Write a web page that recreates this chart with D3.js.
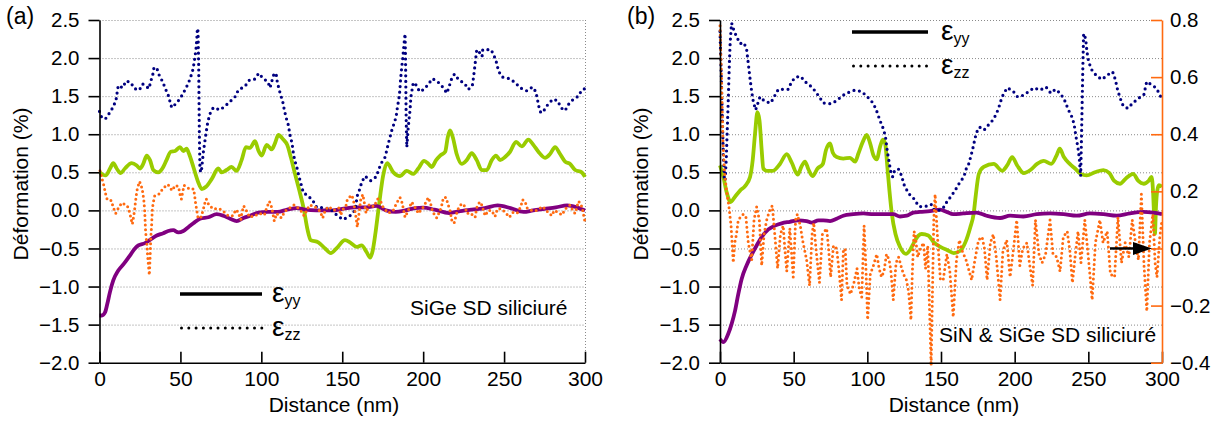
<!DOCTYPE html>
<html><head><meta charset="utf-8">
<script src="https://cdn.jsdelivr.net/npm/d3@7"></script>
<style>body{margin:0;background:#fff} text{font-family:"Liberation Sans",Arial,Helvetica,sans-serif}</style>
</head><body>
<svg id="c" width="1219" height="423"></svg>
<script>
// ---------- tick labels / texts ----------
const xTicks = [0, 50, 100, 150, 200, 250, 300];
const yTicks = [-2, -1.5, -1, -0.5, 0, 0.5, 1, 1.5, 2, 2.5];
const rTicks = [-0.4, -0.2, 0, 0.2, 0.4, 0.6, 0.8];
const panelLabels = ["(a)", "(b)"];
const notes = ["SiGe SD siliciuré", "SiN & SiGe SD siliciuré"];
const legendSubs = ["yy", "zz"];
const xTitle = "Distance (nm)";
const yTitle = "Déformation (%)";

// ---------- panel (a) series [distance nm, strain %] ----------
const aGreenYY = [[0.3,0.50],[2,0.47],[4,0.46],[6.5,0.55],[8.5,0.62],[10.6,0.55],[13.1,0.49],[15.7,0.55],[19.9,0.62],[23,0.59],[25,0.55],[27,0.61],[29.2,0.72],[31.2,0.66],[33.3,0.53],[36.3,0.50],[39.4,0.57],[41.4,0.66],[44,0.77],[46.7,0.78],[49.7,0.83],[51.8,0.78],[53.8,0.81],[55.4,0.74],[58,0.57],[61,0.37],[63.2,0.28],[65.8,0.31],[69.3,0.41],[73.4,0.55],[75.5,0.50],[78.5,0.53],[81.6,0.57],[84.7,0.52],[87.8,0.66],[90.5,0.83],[93,0.82],[96.1,0.91],[98.1,0.79],[100.2,0.72],[103.3,0.86],[106.4,0.80],[108.4,0.88],[110.5,0.99],[113.6,0.93],[116,0.86],[118.2,0.70],[120.8,0.48],[123.5,0.26],[126.4,0.0],[128.5,-0.25],[130.5,-0.39],[135.2,-0.42],[139.4,-0.50],[142.9,-0.56],[146.4,-0.50],[151.7,-0.39],[154.8,-0.42],[158.9,-0.48],[161.9,-0.46],[165.1,-0.55],[167.2,-0.62],[168.8,-0.53],[170.5,-0.3],[172,-0.05],[173.5,0.2],[175.2,0.45],[177.7,0.62],[181.6,0.50],[185.7,0.45],[189.8,0.52],[194,0.48],[197,0.55],[200.6,0.65],[203.3,0.61],[205.3,0.57],[208,0.66],[210.5,0.72],[213.6,0.77],[215.2,0.96],[216.6,1.05],[218.3,0.96],[220.7,0.74],[223.8,0.61],[226.9,0.66],[230,0.75],[233.1,0.66],[236.2,0.53],[239.3,0.53],[242.4,0.66],[245,0.72],[247.5,0.66],[250.6,0.70],[253.7,0.77],[257.4,0.90],[260.9,0.84],[265,0.93],[268.1,0.86],[271.2,0.77],[275.3,0.69],[278.4,0.74],[281.5,0.83],[284.6,0.74],[287.7,0.64],[290.8,0.61],[293.9,0.53],[298,0.50],[300,0.44]];
const aPurpleYY = [[0,-1.38],[1.5,-1.38],[3.4,-1.34],[4.8,-1.23],[6.5,-1.07],[8.5,-0.92],[11.6,-0.79],[15.1,-0.70],[18.9,-0.59],[21.9,-0.50],[24,-0.46],[28.1,-0.43],[32.3,-0.37],[35.4,-0.33],[39.4,-0.30],[42.5,-0.27],[45.6,-0.26],[48.7,-0.29],[51.8,-0.27],[54.9,-0.22],[58,-0.17],[62.1,-0.11],[67.3,-0.09],[72.4,-0.05],[76.5,-0.07],[80.7,-0.11],[84.8,-0.14],[88.9,-0.10],[93,-0.07],[98.1,-0.03],[104,-0.02],[110,-0.02],[116,0.01],[122,0.03],[127,0.01],[134,0.0],[144,0.0],[150,0.02],[158,0.04],[165,0.04],[171,0.06],[177,0.0],[183,-0.02],[189,0.0],[195,0.03],[200,0.035],[207,0.01],[216,-0.035],[223,-0.01],[230,0.01],[238,0.03],[246,0.066],[254,0.03],[262,-0.02],[268,0.0],[275,0.02],[282,0.04],[289,0.066],[295,0.04],[300,0.0]];
const aNavyZZ = [[0,1.30],[1.5,1.21],[4,1.21],[6.5,1.29],[8.5,1.36],[10.2,1.45],[11,1.56],[11.6,1.64],[14.3,1.61],[16.4,1.70],[19.3,1.68],[21.5,1.60],[24.6,1.58],[26.7,1.66],[28.7,1.63],[30.6,1.60],[31.6,1.69],[32.9,1.78],[33.7,1.88],[35.7,1.85],[36.8,1.78],[39,1.69],[40.9,1.59],[42.5,1.51],[44.6,1.35],[47.7,1.41],[50.4,1.49],[52.8,1.58],[54.9,1.67],[56.3,1.75],[57.6,1.84],[58.4,1.93],[59,2.02],[59.6,2.11],[60.1,2.24],[60.5,2.39],[60.9,2.35],[61.1,2.1],[61.3,1.89],[61.5,1.45],[61.7,1.01],[61.9,0.75],[62.1,0.53],[62.9,0.50],[64.2,0.77],[65.8,1.01],[66.9,1.16],[68.3,1.27],[70.3,1.35],[74.5,1.32],[77.6,1.37],[80.7,1.43],[83.7,1.49],[85.8,1.58],[89.9,1.63],[92.6,1.71],[95.7,1.72],[98.4,1.80],[101.2,1.73],[104,1.69],[105.4,1.61],[106.4,1.69],[107.8,1.79],[109.1,1.80],[109.9,1.68],[111.6,1.54],[113.2,1.43],[114.2,1.32],[115.3,1.22],[116.7,1.12],[117.7,0.99],[119,0.88],[119.8,0.75],[120.6,0.66],[121.9,0.57],[123.1,0.46],[125,0.31],[126,0.23],[128.4,0.20],[131.8,0.13],[134.2,0.04],[138.3,0.035],[142.5,0.02],[145,-0.03],[147.6,-0.08],[150.7,-0.12],[154.8,-0.07],[157.9,0.0],[158.6,0.1],[159.4,0.20],[161,0.29],[162,0.37],[164.1,0.45],[167.6,0.39],[170.9,0.44],[172.3,0.52],[173.8,0.61],[176.5,0.70],[178.5,0.88],[179.5,0.96],[180.6,1.05],[182,1.14],[183.3,1.23],[184,1.34],[184.7,1.43],[185.3,1.51],[185.7,1.61],[186,1.71],[186.8,1.89],[187.4,2.0],[187.8,2.1],[188.2,2.19],[188.8,2.32],[189.1,2.0],[189.3,1.6],[189.5,1.2],[189.9,0.83],[190.6,1.05],[191.3,1.2],[191.9,1.32],[192.4,1.49],[193.9,1.68],[196,1.64],[197.7,1.56],[200.7,1.59],[203.6,1.67],[205.9,1.73],[209.4,1.68],[212.5,1.61],[214.6,1.54],[216,1.62],[217.2,1.71],[219.3,1.79],[222.2,1.71],[225.5,1.67],[228,1.59],[230.4,1.64],[231,1.73],[231.7,1.85],[232.4,1.98],[233.1,2.11],[234.6,2.08],[236.4,2.02],[236.8,2.11],[242,2.11],[244,2.02],[245.5,1.93],[246.5,1.83],[249,1.75],[253.3,1.73],[256.8,1.68],[259.9,1.61],[264,1.57],[267.5,1.62],[269.6,1.56],[270.6,1.46],[271.4,1.37],[272.7,1.28],[274.9,1.32],[277,1.39],[280.1,1.46],[283.2,1.44],[285,1.35],[287.7,1.31],[289.7,1.39],[292.8,1.46],[295.9,1.50],[298,1.58],[300,1.60]];
const aOrangeZZ = [[0.3,0.52],[0.7,0.50],[1.5,0.42],[2.8,0.32],[3.6,0.23],[4.8,0.14],[7.3,0.13],[8.5,0.04],[10,-0.04],[11.9,0.04],[13.9,0.10],[15.5,0.08],[17.2,0.06],[18.7,-0.03],[19.7,-0.13],[20.3,-0.18],[21.1,-0.08],[21.7,0.01],[22.2,0.11],[22.8,0.21],[23.4,0.29],[24.8,0.38],[26.3,0.29],[26.9,0.21],[27.5,0.11],[27.9,0.0],[28.1,-0.09],[28.3,-0.19],[28.5,-0.28],[28.9,-0.37],[29.4,-0.47],[29.6,-0.56],[30,-0.66],[30.4,-0.76],[30.8,-0.85],[31.3,-0.6],[31.7,-0.35],[32.2,-0.2],[32.6,0.0],[33.1,0.09],[34.1,0.19],[37.2,0.22],[39.2,0.29],[42.3,0.34],[44.8,0.26],[46.9,0.33],[48.9,0.31],[49.6,0.22],[50.6,0.15],[52.2,0.33],[55.7,0.28],[58.2,0.28],[58.8,0.19],[59.4,0.09],[60.1,0.0],[60.9,-0.10],[62.5,-0.10],[64,0.0],[65,0.09],[66,0.15],[67.4,0.08],[70.1,0.02],[74.2,0.02],[77,-0.02],[79.5,-0.07],[82.6,-0.07],[84.2,0.01],[85.6,-0.02],[87.3,-0.12],[88.1,-0.02],[89.1,0.06],[90.7,0.0],[92.8,-0.09],[95.9,-0.07],[98.7,-0.04],[101.9,-0.06],[103.3,0.035],[105,0.12],[106.4,0.04],[108,-0.14],[109.5,-0.04],[112.4,-0.10],[114.6,-0.01],[117.4,0.03],[120.2,0.07],[124,0.01],[126.4,-0.07],[129.7,0.07],[133,0.05],[136.3,-0.01],[137.9,-0.10],[139.5,0.0],[141.4,0.05],[144.8,0.0],[148.2,0.035],[149,-0.06],[150.7,0.02],[152.4,0.07],[153.2,0.15],[155.9,0.20],[157,0.13],[157.8,0.0],[158.5,-0.09],[159.3,-0.22],[160.3,-0.05],[161.4,0.14],[162.7,0.21],[163.5,0.12],[164.7,-0.035],[166.7,0.08],[169.5,0.05],[171.9,0.15],[173.7,0.12],[175.3,0.04],[178.5,-0.035],[181.5,0.0],[183.7,0.10],[185.7,0.17],[187,0.10],[188.8,-0.09],[190.8,0.0],[192.9,0.11],[195.6,0.02],[197,-0.04],[200,0.04],[201.8,0.11],[203.2,0.17],[204.7,0.08],[205.9,-0.02],[208.4,-0.10],[210.5,0.0],[211.5,0.07],[212.5,0.17],[214.1,0.17],[215.5,0.07],[216.6,0.0],[217.7,-0.13],[219.1,-0.17],[220.5,-0.05],[222,0.04],[223.9,0.09],[226,0.05],[226.9,-0.04],[229,-0.03],[232.1,-0.09],[233.1,0.035],[234.1,0.09],[235.6,0.11],[236.8,0.03],[238.3,-0.07],[240.3,0.0],[242.3,0.0],[244.4,-0.08],[245.9,0.02],[248.5,0.02],[251.2,-0.035],[253.3,-0.09],[255.8,-0.02],[258.3,-0.03],[260.3,0.05],[261.5,0.14],[262.9,0.12],[264.3,0.03],[267,0.0],[270,0.0],[273.9,0.05],[276.4,-0.01],[279.5,-0.07],[281,0.0],[283.7,-0.03],[285.8,-0.06],[287.9,0.02],[290.8,0.07],[292.9,-0.02],[294,-0.04],[295.9,0.12],[297.4,0.09],[298.6,0.0],[299.4,-0.09],[300,-0.15]];

// ---------- panel (b) series ----------
const bGreenYY = [[0,0.59],[2.3,0.44],[4.5,0.24],[7.2,0.11],[10.2,0.18],[13.6,0.26],[17,0.32],[20.4,0.44],[22.2,0.66],[23.8,1.01],[25.4,1.29],[26.8,1.18],[28.3,0.79],[29.4,0.55],[31.7,0.52],[35.8,0.52],[40.7,0.61],[45.3,0.74],[48.6,0.63],[52.7,0.47],[55.4,0.58],[57.7,0.64],[60,0.54],[62.8,0.45],[66.2,0.55],[69.8,0.61],[71.9,0.79],[74.7,0.88],[76.5,0.76],[79.2,0.70],[83.7,0.68],[88.3,0.69],[91.7,0.64],[94,0.75],[96.9,0.90],[99.6,0.99],[101.9,0.88],[104.2,0.72],[106.4,0.67],[108.7,0.84],[110.5,0.93],[112.1,0.88],[113.6,0.57],[115,0.26],[116.6,-0.04],[119.1,-0.31],[122.2,-0.48],[126.3,-0.57],[129,-0.52],[131.7,-0.42],[134.7,-0.33],[136.9,-0.31],[141.4,-0.33],[145.1,-0.42],[149.6,-0.48],[154.1,-0.52],[158.6,-0.56],[163.1,-0.53],[166.5,-0.42],[169.9,-0.22],[172.2,-0.04],[173.6,0.2],[175.7,0.48],[179,0.57],[185.8,0.61],[191.5,0.52],[194.9,0.59],[198.3,0.70],[201.7,0.59],[206.2,0.49],[210.7,0.53],[215.2,0.61],[219.8,0.65],[224.8,0.61],[228.4,0.72],[230.6,0.81],[233.4,0.70],[237.4,0.61],[241,0.55],[244.8,0.48],[248.9,0.46],[254.5,0.50],[260.2,0.53],[264.3,0.49],[267.4,0.39],[271.5,0.35],[275.5,0.42],[280.4,0.48],[283.8,0.39],[287.6,0.35],[291,0.39],[292.9,0.44],[294,0.22],[294.6,-0.06],[295.2,-0.31],[295.9,0.04],[296.8,0.26],[297.9,0.33],[300,0.31]];
const bPurpleYY = [[0,-1.69],[2.3,-1.73],[5.6,-1.62],[7.9,-1.49],[10.2,-1.32],[12.4,-1.10],[14.7,-0.90],[18.1,-0.72],[21.5,-0.58],[24.9,-0.46],[28.3,-0.35],[32.8,-0.25],[37.3,-0.20],[41.8,-0.17],[47.4,-0.15],[53.2,-0.13],[58.8,-0.14],[62.2,-0.16],[66.8,-0.13],[70.1,-0.13],[74.7,-0.14],[79.2,-0.11],[83.7,-0.07],[90.5,-0.05],[97.3,-0.04],[104.1,-0.05],[110.9,-0.05],[117.6,-0.05],[122.2,-0.08],[126.7,-0.07],[131.2,-0.03],[135.7,-0.02],[142.5,-0.01],[149.3,0.01],[153.8,-0.02],[158.3,-0.05],[165.1,-0.04],[174.1,-0.03],[180.9,-0.07],[190.1,-0.10],[196.9,-0.07],[205.9,-0.08],[215,-0.05],[224,-0.04],[233.1,-0.05],[242.1,-0.07],[251.1,-0.04],[260.2,-0.05],[269.2,-0.07],[278.3,-0.04],[287.3,-0.02],[294.1,-0.03],[300,-0.05]];
const bNavyZZ = [[0,2.35],[0.8,1.8],[1.6,1.2],[2.3,0.7],[2.9,0.42],[3.5,0.39],[4.3,0.7],[5,1.1],[5.7,1.5],[6.3,1.9],[6.9,2.2],[7.5,2.37],[7.9,2.46],[9.5,2.36],[11.3,2.28],[13.6,2.19],[16.3,2.2],[18.1,2.11],[19.2,1.93],[20.4,1.73],[21.5,1.56],[22.6,1.43],[24.2,1.32],[27.1,1.49],[30.5,1.43],[34.4,1.41],[36.7,1.49],[39.6,1.59],[43,1.59],[46.4,1.59],[48.6,1.69],[51.3,1.75],[54.8,1.76],[57.7,1.69],[61.1,1.64],[64.5,1.57],[67.4,1.49],[70.1,1.41],[75.1,1.40],[79.2,1.44],[82.6,1.50],[86,1.54],[91.7,1.58],[96.2,1.56],[99.6,1.50],[103,1.43],[105.7,1.34],[108.6,1.18],[110.9,1.07],[112.3,0.97],[113.6,0.77],[115,0.61],[115.9,0.51],[117.2,0.44],[118.6,0.53],[121.2,0.54],[123.4,0.45],[124.6,0.35],[128,0.22],[131,0.17],[133,0.11],[135.3,0.05],[139.1,0.05],[143.3,0.08],[145.6,0.0],[148.5,0.0],[151.6,0.035],[153.9,0.11],[156.6,0.18],[159.5,0.26],[162.5,0.36],[165.5,0.44],[167.2,0.55],[168.8,0.61],[170.4,0.72],[171.8,0.83],[172.8,0.92],[173.9,1.01],[175.7,1.09],[177.9,1.09],[179.5,1.06],[182.5,1.13],[185.4,1.19],[187.6,1.27],[189.2,1.35],[190.8,1.45],[192.2,1.52],[194.9,1.61],[198.8,1.57],[202,1.49],[205.6,1.51],[209.5,1.56],[213.1,1.61],[217.2,1.58],[221.3,1.62],[224.5,1.54],[227.6,1.59],[230.8,1.54],[233.6,1.46],[236.5,1.32],[239.3,1.21],[240.6,1.10],[241.7,0.96],[242.9,0.83],[243.8,0.70],[244.3,0.57],[244.8,0.45],[245.3,0.9],[245.8,1.4],[246.3,1.9],[246.8,2.32],[247.6,2.30],[248.4,2.21],[249.1,2.08],[250.2,1.95],[252.5,1.84],[255.9,1.76],[259.3,1.72],[263.1,1.78],[266.5,1.82],[268.3,1.72],[269.9,1.58],[271.7,1.47],[273.7,1.37],[276.8,1.34],[280.2,1.41],[283.9,1.47],[287.7,1.52],[289.6,1.69],[292.9,1.65],[295.8,1.61],[298.1,1.54],[299.7,1.47]];
// right axis (%) values
const bOrangeZZ = [[0,0.78],[1,0.6],[2,0.38],[3,0.27],[4.5,0.2],[6,0.15],[7.5,0.08],[9,-0.05],[10,0.02],[11.2,0.05],[12.4,0.10],[14,0.11],[15.8,0.12],[17.6,0.11],[19.2,0.02],[21.5,-0.04],[23.1,0.10],[24.9,0.146],[26.7,0.10],[28.3,-0.06],[29.9,0.05],[31.7,0.10],[33.5,0.13],[35.5,0.15],[37,0.06],[39.1,-0.07],[41,0.05],[42.9,0.08],[44,0.0],[45.3,-0.08],[47.4,0.07],[49.7,-0.10],[51.3,0.10],[52.5,0.12],[54.5,0.08],[56,0.03],[58.8,-0.04],[60.8,-0.13],[62.5,0.05],[63.6,0.09],[65.5,-0.02],[67.5,-0.12],[69.5,0.05],[72.4,0.07],[73.7,0.0],[75.1,-0.10],[77,0.01],[79.2,0.0],[81,-0.09],[82.5,-0.18],[83.7,-0.01],[85,0.0],[86.2,-0.13],[88.6,-0.16],[90.9,-0.12],[93,-0.07],[94.5,-0.14],[96.2,-0.17],[97.8,0.08],[99,-0.06],[100.2,-0.25],[102,-0.09],[104.1,-0.06],[106.4,-0.02],[108,-0.07],[109.6,-0.10],[111.3,-0.08],[113,-0.02],[114.8,-0.04],[116,-0.08],[117.6,-0.18],[119.5,-0.05],[121.2,-0.03],[122.8,-0.06],[124.5,-0.09],[126.5,-0.11],[128,-0.15],[129.6,-0.25],[130.5,-0.09],[131.7,0.06],[132.4,0.05],[134.2,-0.03],[136,0.0],[138.1,0.02],[139.5,-0.07],[141,0.01],[143.3,-0.41],[145.1,0.10],[146,0.19],[147.5,0.05],[149.6,-0.11],[151.5,-0.11],[154,-0.02],[156,-0.08],[158.3,-0.24],[160.5,-0.04],[162.5,0.03],[164.5,-0.01],[167,-0.04],[170.8,-0.11],[173,-0.04],[175.5,0.03],[177.9,0.04],[179.5,0.0],[181.3,-0.11],[183.5,0.02],[185.5,0.05],[187.5,-0.03],[190.1,-0.18],[192,-0.01],[194.6,0.03],[196.9,-0.10],[199,-0.01],[201.4,0.10],[203.5,-0.06],[205.5,0.0],[208.3,0.02],[210,-0.05],[212.2,-0.13],[214.1,0.10],[216.5,-0.02],[218.6,-0.05],[221,-0.02],[224,0.10],[226,-0.02],[228.5,-0.03],[230.8,-0.08],[233,0.04],[235.7,0.06],[237.5,-0.01],[239.2,-0.12],[241,-0.03],[243,0.06],[245,-0.05],[247.6,0.10],[250,-0.03],[252.6,-0.18],[254.8,0.02],[257.8,0.10],[260,0.02],[262.8,0.06],[265,-0.09],[267.8,-0.10],[270.1,0.11],[272.5,-0.05],[275,0.02],[277.5,-0.03],[279.8,0.10],[282,0.02],[284,-0.04],[286,0.19],[287.8,-0.06],[289.7,-0.22],[291.5,0.02],[293.8,0.12],[295.3,-0.05],[296.6,-0.10],[298.5,0.04],[300,0.10]];

// ---------- colours ----------
const cGreen = "#99cc00", cPurple = "#800080", cNavy = "#000080", cOrange = "#ff6a10";

const svg = d3.select("#c");
const FONT = '"Liberation Sans", Arial, Helvetica, sans-serif';

function panel(left, right, data, opts) {
  const x = d3.scaleLinear().domain([0, 300]).range([left, right]);
  const y = d3.scaleLinear().domain([-2, 2.5]).range([362.7, 20]);
  const g = svg.append("g");

  // grid
  g.selectAll("line.grid").data(yTicks.filter(t => t > -2)).join("line")
    .attr("x1", left).attr("x2", right)
    .attr("y1", d => y(d) + 0.5).attr("y2", d => y(d) + 0.5)
    .attr("stroke", "#8a8a8a").attr("stroke-width", 1).attr("stroke-dasharray", "1,2");
  if (opts.dottedRight) {
    g.append("line").attr("x1", right + 0.5).attr("x2", right + 0.5).attr("y1", y(2.5)).attr("y2", y(-2))
      .attr("stroke", "#8a8a8a").attr("stroke-dasharray", "1,2");
  }

  const solid = d3.line().x(d => x(d[0])).y(d => y(d[1])).curve(d3.curveMonotoneX);
  const plain = (yy) => d3.line().x(d => x(d[0])).y(d => yy(d[1]));

  g.append("path").attr("d", solid(data.green)).attr("fill", "none").attr("stroke", cGreen).attr("stroke-width", 3.8).attr("stroke-linejoin", "round");
  g.append("path").attr("d", solid(data.purple)).attr("fill", "none").attr("stroke", cPurple).attr("stroke-width", 3.8).attr("stroke-linejoin", "round");
  g.append("path").attr("d", plain(y)(data.navy)).attr("fill", "none").attr("stroke", cNavy).attr("stroke-width", 3.2).attr("stroke-linecap", "round").attr("stroke-dasharray", "0,5.6");
  const yo = opts.rightScale || y;
  g.append("path").attr("d", plain(yo)(data.orange)).attr("fill", "none").attr("stroke", cOrange).attr("stroke-width", 3).attr("stroke-linecap", "round").attr("stroke-dasharray", "0,4.8");

  // axes
  const ya = g.append("g").attr("transform", `translate(${left},0)`)
    .call(d3.axisLeft(y).tickValues(yTicks).tickFormat(d3.format(".1f")).tickSize(11).tickSizeOuter(0).tickPadding(9));
  const xa = g.append("g").attr("transform", `translate(0,${y(-2)})`)
    .call(d3.axisBottom(x).tickValues(xTicks).tickSizeInner(-11).tickSizeOuter(0).tickPadding(8));
  ya.attr("font-size", 20.5);
  xa.attr("font-size", 21);
  [ya, xa].forEach(a => {
    a.attr("font-family", FONT);
    a.select(".domain").attr("stroke", "#000").attr("stroke-width", 1.6);
    a.selectAll(".tick line").attr("stroke", "#000").attr("stroke-width", 1.6);
    a.selectAll(".tick text").attr("fill", "#000");
  });

  if (opts.rightScale) {
    const ra = g.append("g").attr("transform", `translate(${right},0)`)
      .call(d3.axisRight(opts.rightScale).tickValues(rTicks).tickFormat(d3.format(".1f")).tickSizeInner(-11).tickSizeOuter(0).tickPadding(8));
    ra.attr("font-size", 20.5).attr("font-family", FONT);
    ra.select(".domain").attr("stroke", cOrange).attr("stroke-width", 1.6);
    ra.selectAll(".tick line").attr("stroke", cOrange).attr("stroke-width", 1.6);
    ra.selectAll(".tick text").attr("fill", "#000");
  }
  return {x, y, g};
}

const rScale = d3.scaleLinear().domain([-0.4, 0.8]).range([362.7, 20]);
const A = panel(99.5, 585, {green: aGreenYY, purple: aPurpleYY, navy: aNavyZZ, orange: aOrangeZZ}, {dottedRight: true});
const B = panel(720, 1162, {green: bGreenYY, purple: bPurpleYY, navy: bNavyZZ, orange: bOrangeZZ}, {rightScale: rScale});

// texts
function txt(x, y, s, size, anchor) {
  return svg.append("text").attr("x", x).attr("y", y).attr("font-size", size).attr("text-anchor", anchor || "start").attr("fill", "#000").text(s);
}
txt(6, 24, panelLabels[0], 23);
txt(627, 24, panelLabels[1], 23);
txt(334, 412, xTitle, 21, "middle");
txt(954, 412, xTitle, 21, "middle");
svg.append("text").attr("transform", "translate(28,184) rotate(-90)").attr("text-anchor", "middle").attr("font-size", 21).text(yTitle);
svg.append("text").attr("transform", "translate(648,184) rotate(-90)").attr("text-anchor", "middle").attr("font-size", 21).text(yTitle);
txt(410, 315, notes[0], 21);
txt(939, 342, notes[1], 21);

// legends
function legend(x0, x1, yS, yD, tx) {
  svg.append("line").attr("x1", x0).attr("x2", x1).attr("y1", yS).attr("y2", yS).attr("stroke", "#000").attr("stroke-width", 3.6);
  svg.append("line").attr("x1", x0 + 1.5).attr("x2", x1).attr("y1", yD).attr("y2", yD).attr("stroke", "#000").attr("stroke-width", 3).attr("stroke-linecap", "round").attr("stroke-dasharray", "0,7.3");
  [[yS + 8, legendSubs[0]], [yD + 8, legendSubs[1]]].forEach(([by, sub]) => {
    const t = svg.append("text").attr("x", tx).attr("y", by).attr("font-size", 28).attr("fill", "#000");
    t.append("tspan").text("ε");
    t.append("tspan").attr("font-size", 16).attr("dy", 4).text(sub);
  });
}
legend(180, 262, 294, 328, 272);
legend(852, 928, 32, 66, 941);

// arrow toward right axis (b)
const ay = rScale(0);
svg.append("line").attr("x1", 1110).attr("x2", 1136).attr("y1", ay).attr("y2", ay).attr("stroke", "#000").attr("stroke-width", 2.5);
svg.append("path").attr("d", `M1133,${ay - 6.5}L1152,${ay}L1133,${ay + 6.5}Z`).attr("fill", "#000");
</script>
</body></html>
